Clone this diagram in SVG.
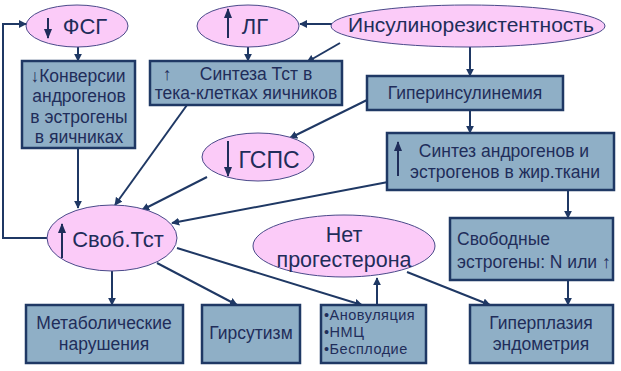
<svg xmlns="http://www.w3.org/2000/svg" width="621" height="371" viewBox="0 0 621 371">
<defs>
<marker id="ah" viewBox="0 0 10 10" refX="9" refY="5" markerWidth="4" markerHeight="4" orient="auto" markerUnits="strokeWidth">
<path d="M0,0 L10,5 L0,10 z" fill="#1F3864"/>
</marker>
<marker id="ah2" viewBox="0 0 10 10" refX="9" refY="5" markerWidth="5" markerHeight="5" orient="auto" markerUnits="strokeWidth">
<path d="M0,1 L10,5 L0,9 z" fill="#1F2D5A"/>
</marker>
<style>
.el{fill:#FBCBF8;stroke:#4A4A8A;stroke-width:1}
.bx{fill:#8FAFC6;stroke:#1F3864;stroke-width:2.5}
.t{font-family:"Liberation Sans",Arial,sans-serif;fill:#1F2D5A;text-anchor:middle}
.bt{font-size:17.5px}
.et{font-size:22px}
.lt{font-size:14.5px;letter-spacing:0.5px;text-anchor:start}
.c{fill:none;stroke:#1F3864;stroke-width:2;marker-end:url(#ah)}
.ia{stroke:#1F2D5A;stroke-width:2;marker-end:url(#ah2)}
</style>
</defs>
<rect width="621" height="371" fill="#FFFFFF"/>

<g id="connectors">
<path class="c" d="M47,238 H3 V24 H26"/>
<path class="c" d="M78,47 V61"/>
<path class="c" d="M248,47 V61"/>
<path class="c" d="M332,24 H300"/>
<path class="c" d="M340,43 L307,62"/>
<path class="c" d="M470,47 V76"/>
<path class="c" d="M367,100 L290,138"/>
<path class="c" d="M470,110 V133"/>
<path class="c" d="M78,148 V208"/>
<path class="c" d="M187,105 L115,205"/>
<path class="c" d="M207,177 L142,210"/>
<path class="c" d="M388,182 L172,223"/>
<path class="c" d="M112,271 V305"/>
<path class="c" d="M157,263 L237,305"/>
<path class="c" d="M177,248 L362,305"/>
<path class="c" d="M377,305 V278"/>
<path class="c" d="M407,272 L490,305"/>
<path class="c" d="M568,190 V218"/>
<path class="c" d="M568,280 V305"/>
</g>

<g id="fsg">
<ellipse class="el" cx="77" cy="26" rx="51" ry="21"/>
<line class="ia" x1="48" y1="18" x2="48" y2="38"/>
<text class="t et" x="85" y="34">ФСГ</text>
</g>

<g id="lg">
<ellipse class="el" cx="248" cy="26" rx="51" ry="21"/>
<line class="ia" x1="228" y1="38" x2="228" y2="9"/>
<text class="t et" x="255" y="34">ЛГ</text>
</g>

<g id="insulin">
<ellipse class="el" cx="468" cy="26" rx="137" ry="21"/>
<text class="t" style="font-size:21px" x="471" y="32">Инсулинорезистентность</text>
</g>

<g id="konversii">
<rect class="bx" x="22" y="61" width="113" height="87"/>
<text class="t bt" x="78" y="82">↓Конверсии</text>
<text class="t bt" x="79" y="102">андрогенов</text>
<text class="t bt" x="79" y="123">в эстрогены</text>
<text class="t bt" x="79" y="143">в яичниках</text>
</g>

<g id="sintez-tst">
<rect class="bx" x="150" y="61" width="192" height="44"/>
<text class="t bt" x="246" y="80"><tspan x="167">↑</tspan><tspan x="256">Синтеза Тст в</tspan></text>
<text class="t bt" x="246" y="99">тека-клетках яичников</text>
</g>

<g id="giperinsulinemia">
<rect class="bx" x="367" y="76" width="196" height="34"/>
<text class="t bt" x="465" y="99">Гиперинсулинемия</text>
</g>

<g id="gsps">
<ellipse class="el" cx="258" cy="157" rx="56" ry="24"/>
<line class="ia" x1="228" y1="141" x2="228" y2="176"/>
<text class="t" style="font-size:23px" x="269" y="168">ГСПС</text>
</g>

<g id="sintez-andr">
<rect class="bx" x="387" y="133" width="227" height="57"/>
<line class="ia" x1="398" y1="176" x2="398" y2="142"/>
<text class="t bt" x="504" y="157">Синтез андрогенов и</text>
<text class="t bt" x="505" y="178">эстрогенов в жир.ткани</text>
</g>

<g id="svob-tst">
<ellipse class="el" cx="112" cy="238" rx="65" ry="33"/>
<line class="ia" x1="62" y1="258" x2="62" y2="224"/>
<text class="t et" x="118" y="247">Своб.Тст</text>
</g>

<g id="net-progesterona">
<ellipse class="el" cx="344" cy="246" rx="91" ry="31"/>
<text class="t" style="font-size:21.5px" x="344" y="242">Нет</text>
<text class="t" style="font-size:21.5px" x="344" y="267">прогестерона</text>
</g>

<g id="svobodnye-estrogeny">
<rect class="bx" x="450" y="218" width="163" height="62"/>
<text class="t bt" style="text-anchor:start" x="457" y="245">Свободные</text>
<text class="t bt" style="text-anchor:start" x="457" y="268">эстрогены: N или ↑</text>
</g>

<g id="metabolic">
<rect class="bx" x="26" y="305" width="157" height="58"/>
<text class="t bt" x="104" y="329">Метаболические</text>
<text class="t bt" x="104" y="350">нарушения</text>
</g>

<g id="girsutizm">
<rect class="bx" x="202" y="305" width="98" height="58"/>
<text class="t bt" x="251" y="339">Гирсутизм</text>
</g>

<g id="anovulyaciya">
<rect class="bx" x="321" y="305" width="105" height="58"/>
<text class="t lt" x="324" y="320">•Ановуляция</text>
<text class="t lt" x="324" y="337">•НМЦ</text>
<text class="t lt" x="324" y="354">•Бесплодие</text>
</g>

<g id="giperplazia">
<rect class="bx" x="470" y="305" width="143" height="58"/>
<text class="t bt" x="541" y="329">Гиперплазия</text>
<text class="t bt" x="541" y="350">эндометрия</text>
</g>
</svg>
